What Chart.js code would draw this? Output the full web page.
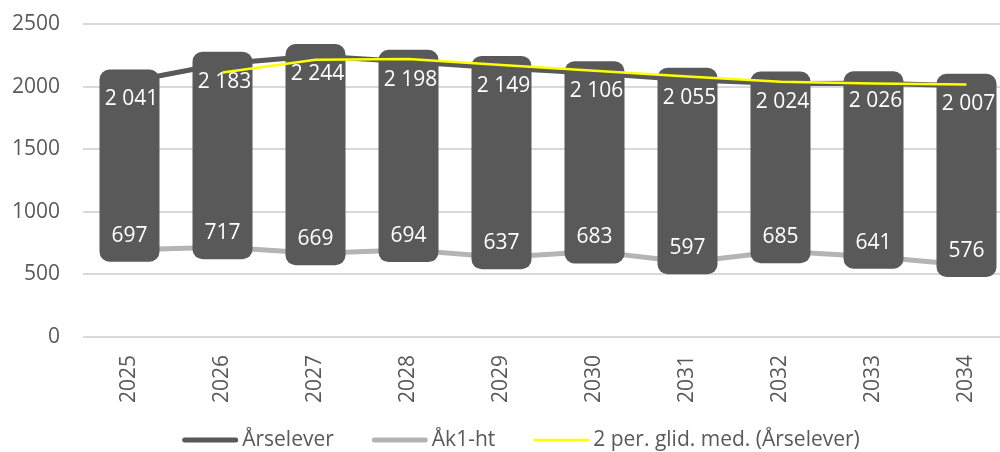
<!DOCTYPE html>
<html>
<head>
<meta charset="utf-8">
<script src="https://cdn.jsdelivr.net/npm/chart.js@4.4.1/dist/chart.umd.min.js"></script>
<style>
  html, body { margin: 0; padding: 0; background: #fff; overflow: hidden; }
  #wrap { width: 1013px; height: 452px; position: relative; }
</style>
</head>
<body>
<div id="wrap"><canvas id="c"></canvas></div>
<script>
const years = ['2025', '2026', '2027', '2028', '2029', '2030', '2031', '2032', '2033', '2034'];
const arselever = [2041, 2183, 2244, 2198, 2149, 2106, 2055, 2024, 2026, 2007];
const ak1ht = [697, 717, 669, 694, 637, 683, 597, 685, 641, 576];
const glidMed = [null, 2112, 2213.5, 2221, 2173.5, 2127.5, 2080.5, 2039.5, 2025, 2016.5];
const seriesNames = ['Årselever', 'Åk1-ht', '2 per. glid. med. (Årselever)'];

const FONT = "'Open Sans', 'DejaVu Sans', sans-serif";
const fmt = v => String(v).replace(/\B(?=(\d{3})+(?!\d))/g, ' ');

const boxPlugin = {
  id: 'labelBoxes',
  afterDatasetDraw(chart, args) {
    if (args.index !== 0) return;
    const ctx = chart.ctx;
    const xs = chart.scales.x, ys = chart.scales.y;
    ctx.save();
    for (let i = 0; i < years.length; i++) {
      const cx = xs.getPixelForValue(i);
      const yTop = ys.getPixelForValue(arselever[i]);
      const yBot = ys.getPixelForValue(ak1ht[i]);
      const top = yTop - 12, bot = yBot + 12;
      ctx.fillStyle = '#595959';
      ctx.beginPath();
      ctx.roundRect(cx - 30, top, 60, bot - top, 10);
      ctx.fill();
      ctx.fillStyle = '#ffffff';
      ctx.font = '21px ' + FONT;
      ctx.textAlign = 'center';
      ctx.textBaseline = 'middle';
      ctx.fillText(fmt(arselever[i]), cx + 2, yTop + 18);
      ctx.fillText(fmt(ak1ht[i]), cx, yBot - 14);
    }
    ctx.restore();
  }
};

const legendPlugin = {
  id: 'customLegend',
  afterDraw(chart) {
    const ctx = chart.ctx;
    const ds = chart.data.datasets;
    ctx.save();
    ctx.font = '21px ' + FONT;
    const marker = 56, gap = 4, spacing = 38;
    const widths = ds.map(d => marker + gap + ctx.measureText(d.label).width);
    const total = widths.reduce((a, b) => a + b, 0) + spacing * (ds.length - 1);
    let x = 521 - total / 2;
    const y = 440;
    ds.forEach((d, i) => {
      ctx.strokeStyle = d.borderColor;
      ctx.lineWidth = d.borderWidth;
      ctx.lineCap = d.borderCapStyle || 'butt';
      ctx.beginPath();
      const inset = ctx.lineCap === 'round' ? d.borderWidth / 2 : 0;
      ctx.moveTo(x + inset, y);
      ctx.lineTo(x + marker - inset, y);
      ctx.stroke();
      ctx.fillStyle = '#595959';
      ctx.textAlign = 'left';
      ctx.textBaseline = 'middle';
      ctx.fillText(d.label, x + marker + gap, y);
      x += widths[i] + spacing;
    });
    ctx.restore();
  }
};

new Chart(document.getElementById('c'), {
  type: 'line',
  data: {
    labels: years,
    datasets: [
      { label: seriesNames[0], data: arselever, borderColor: '#595959', backgroundColor: '#595959',
        borderWidth: 5, pointRadius: 0, pointHoverRadius: 0, borderCapStyle: 'round', order: 1 },
      { label: seriesNames[1], data: ak1ht, borderColor: '#b4b4b4', backgroundColor: '#b4b4b4',
        borderWidth: 5, pointRadius: 0, pointHoverRadius: 0, borderCapStyle: 'round', order: 2 },
      { label: seriesNames[2], data: glidMed, borderColor: '#ffff00', backgroundColor: '#ffff00',
        borderWidth: 2.5, pointRadius: 0, pointHoverRadius: 0, order: 0 }
    ]
  },
  options: {
    responsive: true,
    maintainAspectRatio: false,
    animation: false,
    layout: { padding: { top: 24, left: 13, right: 0, bottom: 50 } },
    plugins: {
      tooltip: { enabled: false },
      legend: { display: false }
    },
    scales: {
      x: {
        offset: true,
        grid: { display: false },
        border: { display: false },
        ticks: { color: '#595959', font: { family: FONT, size: 21 }, maxRotation: 90, minRotation: 90, padding: 10 },
        afterFit(s) { s.height = 65; s.paddingLeft = 0; s.paddingRight = 0; }
      },
      y: {
        min: 0, max: 2500,
        grid: { color: '#d9d9d9', lineWidth: 2, drawTicks: false },
        border: { display: false },
        ticks: { stepSize: 500, color: '#595959', font: { family: FONT, size: 21 }, padding: 23,
                 callback: v => String(v) },
        afterFit(s) { s.width = 70; s.paddingTop = 0; s.paddingBottom = 0; }
      }
    }
  },
  plugins: [boxPlugin, legendPlugin]
});
</script>
</body>
</html>
